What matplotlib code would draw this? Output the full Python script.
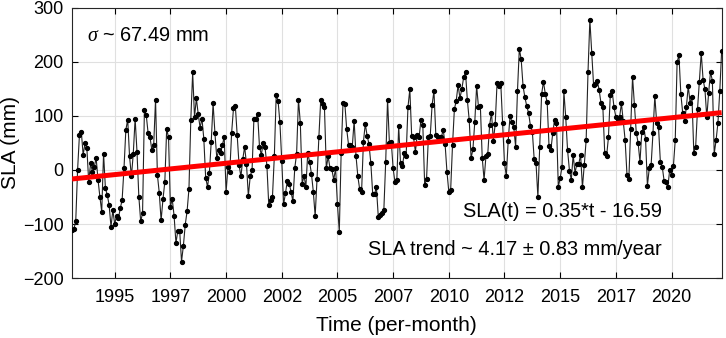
import numpy as np
import matplotlib.pyplot as plt

# ── Data (monthly SLA, mm) ────────────────────────────────────────────────────

START_YEAR = 1993 + 1 / 12          # first month (Feb 1993)
SLOPE, INTERCEPT = 0.35, -16.59     # SLA(t) = 0.35*t - 16.59, t in months

sla_1993_1996 = [-110, -109, -95, 0, 65, 71, 28, 49, 40, -22, 12, -3, 6, 22, -18, -49,
                 -77, 30, -34, -46, -65, -105, -74, -100, -85, -89, -71, -55, 3, 74, 93,
                 25, -12, 30, 95, 34, -49, -95, -80, 111, 101, 68]
sla_1996_2000 = [61, 37, 46, 130, -9, -42, -93, -54, -22, 76, 60, -68, -54, -85, -135,
                 -112, -112, -169, -140, -101, -76, -35, 93, 180, 98, 132, 103, 78, 95, 58,
                 -14, -31, -6, 52, 123, 68, 22, 36, 31, 46, 61, -41, 5]
sla_2000_2003 = [-3, 69, 114, 118, 65, 9, -12, 20, 43, 11, -48, -12, 0, 95, 95, 103, 43,
                 28, 50, 42, 8, -65, -55, -49, 25, 138, 128, 88, 17, -63, -43, -20, -25,
                 -40, -58, 3, 30, 130, 87, -25, -11, -31, 31]
sla_2003_2007 = [15, -7, -40, -85, -17, 61, 130, 122, 116, 3, 25, 3, 1, -18, 3, -63, -114,
                 31, 124, 122, 75, 46, 46, 43, 91, 26, -12, -36, -41, 52, 85, 63, 48, 12,
                 -44, -44, -32, -86, -83, -80, -74, 15, 130]
sla_2007_2010 = [50, 52, 3, -23, -18, 81, 12, 7, 31, 26, 116, 149, 63, 60, 34, 65, 60, 93,
                 83, -28, -17, 60, 63, 120, 146, 65, 60, 60, 61, 74, 48, -3, -40, -37, 46,
                 112, 128, 157, 133, 149, 171, 180, 129]
sla_2010_2014 = [92, 22, 38, 89, 155, 116, 118, 23, -18, 25, 30, 83, 106, 54, 85, 161, 155,
                 160, 87, 12, -11, 54, 100, 89, 79, 43, 146, 224, 204, 155, 134, 118, 105,
                 81, 71, 20, 12, -50, 43, 140, 163, 140, 125]
sla_2014_2018 = [44, 37, 68, 93, 87, -31, -15, 6, 145, 97, 36, -1, -18, 28, -5, 11, 11, 28,
                 -32, 10, 55, 181, 277, 216, 157, 159, 164, 148, 123, 116, 32, 25, 60, 138,
                 146, 116, 98, 94, 97, 123, 90, 55, -9]
sla_2018_2022 = [-17, 75, 172, 120, 69, 50, 15, 71, 79, 58, -29, 3, 9, 68, 137, 87, 79, 14,
                 6, -20, -23, -32, 0, -9, 7, 55, 199, 212, 141, 106, 91, 116, 155, 124, 135,
                 32, 43, 112, 163, 216, 167, 149, 97, 143, 181, 165, 30, 55, 87, 146, 220]

x_tick_years = [1995, 1997.5, 2000, 2002.5, 2005, 2007.5, 2010, 2012.5, 2015, 2017.5, 2020]
y_ticks = [-200, -100, 0, 100, 200, 300]


# ── Build series ──────────────────────────────────────────────────────────────

sla = np.array(sla_1993_1996 + sla_1996_2000 + sla_2000_2003 + sla_2003_2007
               + sla_2007_2010 + sla_2010_2014 + sla_2014_2018 + sla_2018_2022, dtype=float)
t = np.arange(len(sla))
years = START_YEAR + t / 12
trend = SLOPE * t + INTERCEPT


# ── Plot ──────────────────────────────────────────────────────────────────────

plt.rcParams['font.family'] = ['Liberation Sans', 'DejaVu Sans']
plt.rcParams['mathtext.fontset'] = 'custom'
plt.rcParams['mathtext.it'] = 'Liberation Serif:italic'

fig = plt.figure(figsize=(7.26, 3.38), dpi=100)
ax = fig.add_axes([0.0992, 0.1766, 0.8948, 0.8012])

ax.plot(years, sla, '-', color='#222222', lw=0.8, marker='o', ms=2.8,
        mfc='black', mec='black', zorder=3)
ax.plot(years, trend, '-', color='#ff0000', lw=3.6, zorder=4, solid_capstyle='butt')

ax.set_xlim(years[0], years[-1])
ax.set_ylim(-200, 300)
ax.set_yticks(y_ticks)
ax.set_xticks(x_tick_years)
ax.set_xticklabels([str(int(y)) for y in x_tick_years])

ax.grid(True, color='#e0e0e0', lw=0.8)
ax.set_axisbelow(True)
ax.tick_params(direction='in', top=True, right=True, length=4, width=0.8,
               labelsize=13, colors='black')
ax.tick_params(axis='x', pad=8)
ax.tick_params(axis='y', pad=6)
for s in ax.spines.values():
    s.set_linewidth(0.8)
    s.set_color('#262626')

ax.set_xlabel('Time (per-month)', fontsize=15, labelpad=7)
ax.set_ylabel('SLA (mm)', fontsize=15, labelpad=2)

ax.text(0.023, 0.898, r'$\sigma$ ~ 67.49 mm', transform=ax.transAxes,
        fontsize=14.4, ha='left', va='center')
ax.text(0.908, 0.245, 'SLA(t) = 0.35*t - 16.59', transform=ax.transAxes,
        fontsize=14.4, ha='right', va='center')
ax.text(0.908, 0.108, 'SLA trend ~ 4.17 \u00b1 0.83 mm/year', transform=ax.transAxes,
        fontsize=14.4, ha='right', va='center')

plt.savefig('out.png', dpi=100)
